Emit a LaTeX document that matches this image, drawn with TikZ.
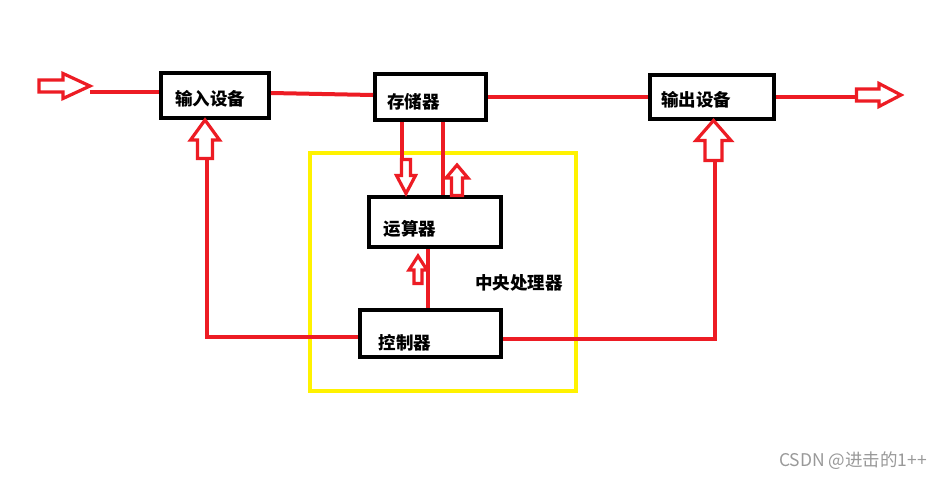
\documentclass[tikz,border=0pt]{standalone}
\usepackage{fontspec}
\setmainfont{Noto Sans CJK SC}
\newfontfamily\wmfont{Noto Sans CJK SC}
\definecolor{pred}{RGB}{237,28,36}
\definecolor{pyel}{RGB}{255,242,0}
\tikzset{
  box/.style={draw=black, line width=4pt, inner sep=0pt, fill=white},
  redline/.style={draw=pred, line width=4pt},
  lbl/.style={font=\fontsize{17.5}{20}\selectfont\bfseries, inner sep=0pt},
  hollow/.style={draw=pred, line width=3.2pt, line join=miter, miter limit=4},
}
% \hollowarrow{x}{y}{angle}{L}{H}{s}{h}
\newcommand\hollowarrow[7]{%
  \draw[hollow, shift={(#1,#2)}, rotate=#3]
    (0,-#6) -- ({#4-#5},-#6) -- ({#4-#5},-#7) -- (#4,0) -- ({#4-#5},#7)
    -- ({#4-#5},#6) -- (0,#6) -- cycle;}
\begin{document}
\begin{tikzpicture}[x=1pt,y=-1pt]
\useasboundingbox[fill=white] (0,0) rectangle (944,479);
% yellow CPU frame
\draw[draw=pyel, line width=4pt] (310,153) rectangle (576,391);
% boxes
\node[box, minimum width=108pt, minimum height=45pt] (in) at (215,95.5) {};
\node[box, minimum width=111pt, minimum height=46pt] (mem) at (430.5,97) {};
\node[box, minimum width=124pt, minimum height=44pt] (out) at (712,97) {};
\node[box, minimum width=132pt, minimum height=50pt] (alu) at (435,222) {};
\node[box, minimum width=141pt, minimum height=47pt] (ctrl) at (430.5,333.5) {};
% labels
\node[lbl] (tin) at (210,99) {输入设备};
\node[lbl] (tmem) at (413.5,101.5) {存储器};
\node[lbl] (tout) at (696,100) {输出设备};
\node[lbl] (talu) at (410,229) {运算器};
\node[lbl] (tcpu) at (519,283) {中央处理器};
\node[lbl] (tctrl) at (405,343) {控制器};
\node[font=\wmfont\fontsize{17.5}{19}\selectfont, text=black!40, inner sep=0pt] (wm) at (853,461) {CSDN @进击的1++};
% coordinates for free ends
\coordinate (inA) at (90,92);
\coordinate (outA) at (856,97);
\coordinate (inUp) at (207,158);
\coordinate (outUp) at (715,160);
\coordinate (memDn) at (402,158);
% connectors
\draw[redline] (inA) -- (in.west |- inA);
\draw[redline] (in.east |- 0,93) -- (mem.west |- 0,95);
\draw[redline] (mem.east) -- (out.west);
\draw[redline] (out.east) -- (outA);
\draw[redline] (ctrl.west |- 0,337) -| (inUp);
\draw[redline] (ctrl.east |- 0,339) -| (outUp);
\draw[redline] (mem.south -| memDn) -- (memDn);
\draw[redline] (mem.south -| 443,0) -- (alu.north -| 443,0);
\draw[redline] (ctrl.north -| 428,0) -- (alu.south -| 428,0);
% hollow arrows
\hollowarrow{39}{86}{0}{51}{27}{6}{12.5}
\hollowarrow{856.5}{95}{0}{44.5}{22}{6}{11.5}
\hollowarrow{205}{158.5}{90}{38.5}{20}{7.5}{14.5}
\hollowarrow{713.5}{160.5}{90}{40}{20}{8.5}{17.5}
\hollowarrow{406}{159.5}{-90}{34}{18}{4.5}{9.5}
\hollowarrow{457}{195.5}{90}{30.5}{13}{5.5}{11}
\hollowarrow{418}{283.5}{90}{27.5}{14}{4}{9}
\end{tikzpicture}
\end{document}
